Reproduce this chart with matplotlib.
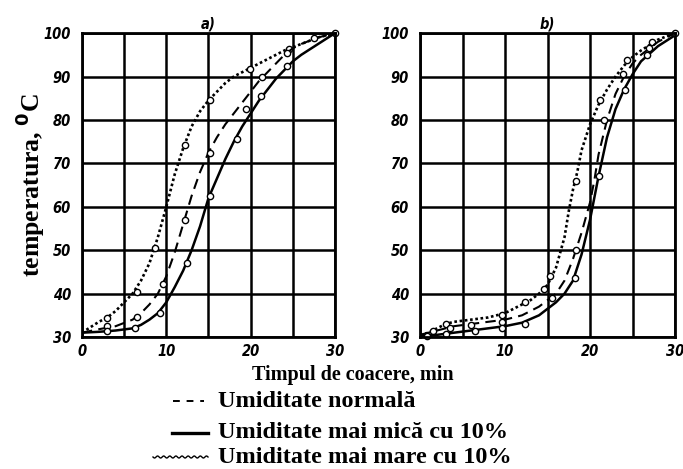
import matplotlib
matplotlib.use("Agg")
import matplotlib.pyplot as plt
from matplotlib.lines import Line2D
import numpy as np

# ---------------- data ----------------
# Panel a) curves
a_hi_x = [0, 2, 3, 4, 5, 6, 7, 8, 9, 10, 11, 12, 13, 14, 15, 16, 17, 18, 19, 20, 22, 24, 26, 28, 30]
a_hi_y = [31, 33.5, 34.5, 36, 38, 40, 43, 47, 53, 60, 67.5, 73.5, 78.5, 82, 84.5, 86.5, 88.5, 90, 91, 92, 94, 96, 97.5, 99, 100]
a_norm_x = [0, 2, 4, 6, 7, 8, 9, 10, 11, 12, 13, 14, 15, 16, 17, 18, 19, 20, 21, 22, 23, 24, 25, 26, 28, 30]
a_norm_y = [31, 31.8, 32.5, 34, 35.5, 37.5, 40, 44, 49.5, 56, 62.5, 68, 72.5, 76, 79, 81.5, 84, 86.5, 89, 91, 93, 95, 96.5, 97.5, 99, 100]
a_low_x = [0, 2, 4, 6, 7, 8, 9, 10, 11, 12, 13, 14, 15, 16, 17, 18, 19, 20, 21, 22, 23, 24, 25, 26, 28, 30]
a_low_y = [31, 31.2, 31.5, 32, 32.8, 34, 35.5, 38, 41.5, 45.3, 50, 55.5, 62, 66.5, 71, 75, 78.5, 81.5, 84.5, 87, 89.5, 91.5, 93.5, 95, 97.5, 100]

# Panel a) measured points
a_hi_px = [3, 6.5, 8.7, 12.2, 15.2, 19.9, 24.5, 30]
a_hi_py = [34.3, 40.4, 50.4, 74.3, 84.6, 91.7, 96.3, 100]
a_norm_px = [3, 6.5, 9.6, 12.2, 15.2, 19.5, 21.3, 24.3, 27.5]
a_norm_py = [32.5, 34.5, 42.3, 57, 72.5, 82.5, 90, 95.5, 98.8]
a_low_px = [3, 6.3, 9.3, 12.4, 15.2, 18.4, 21.2, 24.3]
a_low_py = [31.5, 32, 35.5, 47, 62.5, 75.5, 85.5, 92.5]

# Panel b) curves
b_hi_x = [0, 1, 2, 3, 4, 6, 8, 10, 12, 13, 14, 15, 16, 17, 17.5, 18, 18.5, 19, 20, 21, 22, 23, 24, 25, 26, 28, 30]
b_hi_y = [30.5, 31, 32, 33, 33.5, 34, 34.5, 35.5, 37.5, 38.5, 40, 42, 46, 53, 59, 64, 68, 73, 79, 83.5, 87, 90, 92.5, 94.5, 96, 98.5, 100]
b_norm_x = [0, 2, 4, 6, 8, 10, 12, 14, 15, 16, 17, 18, 19, 20, 20.5, 21, 22, 23, 24, 25, 26, 28, 30]
b_norm_y = [30.5, 31.5, 32.5, 33, 33.5, 34, 35, 37, 38.5, 40, 43, 48, 54, 61, 66, 72, 80, 86, 90, 93, 95, 98, 100]
b_low_x = [0, 2, 4, 6, 8, 10, 12, 14, 15, 16, 17, 18, 19, 20, 20.5, 21, 22, 23, 24, 25, 26, 28, 30]
b_low_y = [30.3, 30.5, 31, 31.5, 32, 32.5, 33.3, 35, 36.5, 38, 40, 43, 49, 57, 62, 67, 76, 82.5, 87, 90.5, 93.5, 97, 99.5]

# Panel b) measured points
b_hi_px = [3.1, 9.6, 12.4, 14.6, 15.3, 18.4, 21.2, 24.3, 27.3]
b_hi_py = [33, 35, 38, 41, 44, 66, 84.5, 93.8, 98]
b_norm_px = [1.5, 3.5, 6, 9.6, 15.5, 18.4, 21.6, 23.9, 26.9]
b_norm_py = [31.5, 32, 32.8, 33.5, 39, 50, 80, 90.5, 96.5]
b_low_px = [0.8, 3, 6.5, 9.7, 12.4, 18.2, 21, 24.1, 26.7, 30]
b_low_py = [30.3, 30.8, 31.3, 32, 33, 43.5, 67, 87, 95, 100]

x_ticks = [0, 10, 20, 30]
y_ticks = [30, 40, 50, 60, 70, 80, 90, 100]
panel_titles = ["a)", "b)"]
legend_labels = ["Umiditate normală", "Umiditate mai mică cu 10%", "Umiditate mai mare cu 10%"]
xlabel = "Timpul de coacere, min"
ylabel = "temperatura, $^{\\mathbf{0}}$C"

# ---------------- figure ----------------
fig = plt.figure(figsize=(6.83, 4.69), dpi=100)
tick_font = dict(family="DejaVu Sans", stretch="condensed", style="italic",
                 weight="bold", size=10.5)
serif = ["Liberation Serif", "DejaVu Serif"]

ax_a = fig.add_axes([0.120, 0.2814, 0.3705, 0.648])
ax_b = fig.add_axes([0.615, 0.2814, 0.3733, 0.648])

dot_style = dict(color="black", lw=1.9, linestyle=(0, (1, 1)))
dash_style = dict(color="black", lw=1.5, linestyle=(0, (5, 3)))
solid_style = dict(color="black", lw=1.8, linestyle="-")
mk = dict(linestyle="none", marker="o", ms=4.5, mfc="white", mec="black", mew=1.0)

panels = [
    (ax_a, (a_hi_x, a_hi_y, a_hi_px, a_hi_py),
     (a_norm_x, a_norm_y, a_norm_px, a_norm_py),
     (a_low_x, a_low_y, a_low_px, a_low_py)),
    (ax_b, (b_hi_x, b_hi_y, b_hi_px, b_hi_py),
     (b_norm_x, b_norm_y, b_norm_px, b_norm_py),
     (b_low_x, b_low_y, b_low_px, b_low_py)),
]

for i, (ax, hi, norm, low) in enumerate(panels):
    ax.set_xlim(0, 30)
    ax.set_ylim(30, 100)
    ax.set_xticks(x_ticks)
    ax.set_xticks([5, 15, 25], minor=True)
    ax.set_yticks(y_ticks)
    ax.grid(True, which="both", color="black", lw=1.8)
    ax.set_axisbelow(True)
    for s in ax.spines.values():
        s.set_linewidth(2.0)
    ax.tick_params(which="both", length=0)
    ax.tick_params(axis="y", pad=8)
    ax.tick_params(axis="x", pad=5)
    ax.set_xticklabels([str(v) for v in x_ticks], fontdict=tick_font)
    ax.set_yticklabels([str(v) for v in y_ticks], fontdict=tick_font)

    for (cx, cy, px, py), st in ((hi, dot_style), (norm, dash_style), (low, solid_style)):
        ax.plot(cx, cy, **st)
        ax.plot(px, py, **mk, clip_on=False)

    ax.set_title(panel_titles[i], fontdict=dict(family="DejaVu Sans", stretch="condensed",
                                                style="italic", weight="bold", size=10.5), pad=3)

ax_a.set_ylabel(ylabel, family=serif, weight="bold", size=18.5)
ax_a.yaxis.set_label_coords(-0.14, 0.50)

# x label
fig.text(0.517, 0.200, xlabel, family=serif, weight="bold", size=14.5, ha="center", va="center")

# legend drawn manually
W, H = 683, 469
def fx(px):
    return px / W
def fy(py):
    return 1 - py / H

rows_y = [401, 433, 457]
text_x = 218
fs = 17.5
# dashed "- - -"
fig.add_artist(Line2D([fx(173), fx(204)], [fy(rows_y[0])] * 2, color="black", lw=1.4,
                      linestyle=(0, (3.5, 3.5)), transform=fig.transFigure))
# solid
fig.add_artist(Line2D([fx(172), fx(208)], [fy(rows_y[1])] * 2, color="black", lw=2.4,
                      transform=fig.transFigure))
# wavy
wx = np.linspace(153, 208, 120)
wy = rows_y[2] + 1.0 * np.sin((wx - 153) / 55 * 2 * np.pi * 9)
fig.add_artist(Line2D(fx(wx), fy(wy), color="black", lw=1.0, transform=fig.transFigure))

for yv, lab in zip(rows_y, legend_labels):
    fig.text(fx(text_x), fy(yv), lab, family=serif, weight="bold", size=fs,
             ha="left", va="center")

fig.savefig("out.png", dpi=100)
